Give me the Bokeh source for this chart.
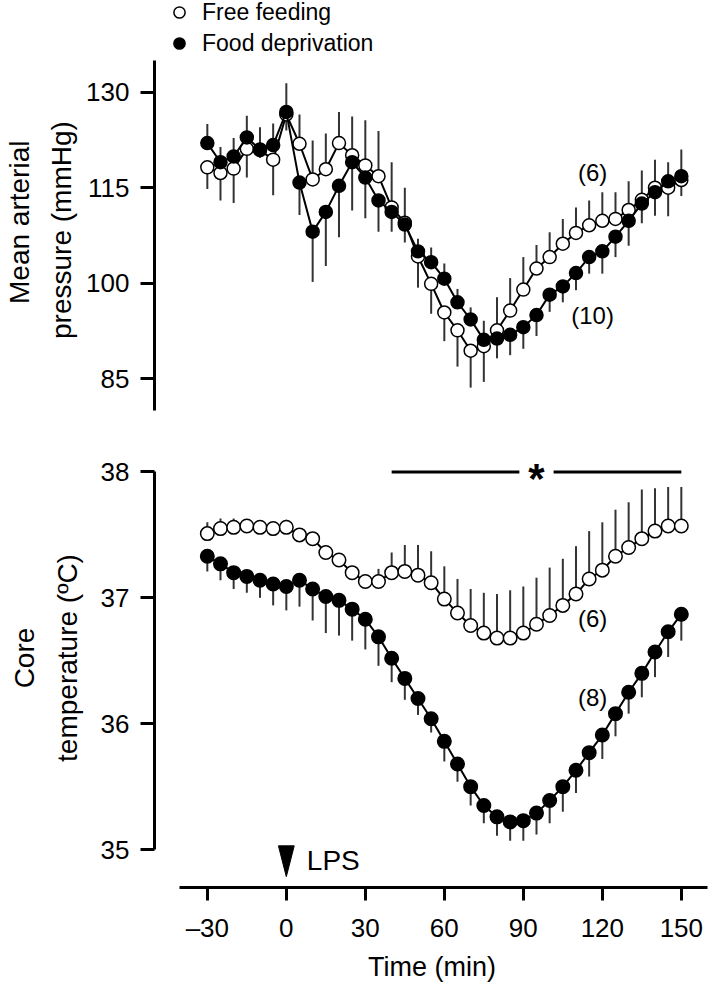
import numpy as np
from bokeh.plotting import figure
from bokeh.models import Range1d, Legend, LegendItem, Label, FixedTicker
from bokeh.layouts import column
from bokeh.embed import file_html
from bokeh.resources import INLINE

# ---------------- data ----------------
time_min = list(range(-30, 155, 5))

map_ff = [118.2, 117.3, 118.0, 121.1, 120.9, 119.4, 126.5, 121.9, 116.3, 117.9,
          122.0, 120.1, 118.5, 116.8, 111.9, 109.5, 104.2, 99.9, 95.4, 92.6,
          89.4, 90.1, 92.6, 95.7, 99.0, 102.3, 104.1, 106.2, 107.9, 109.1,
          109.8, 110.1, 111.5, 113.1, 115.0, 115.0, 116.2]
map_ff_sem = [3.4, 4.3, 5.4, 4.5, 1.2, 5.6, 2.5, 4.6, 6.1, 5.6,
              4.9, 6.1, 7.1, 7.1, 7.1, 5.5, 4.9, 4.7, 4.5, 5.7,
              5.8, 5.6, 5.2, 5.1, 5.1, 3.7, 3.9, 3.9, 4.0, 3.9,
              4.5, 4.2, 4.5, 4.6, 4.4, 4.5, 2.5]
map_fd = [122.0, 119.0, 119.9, 122.9, 121.0, 121.7, 126.9, 115.8, 108.1, 111.2,
          115.3, 119.0, 116.6, 113.0, 111.2, 109.2, 105.0, 103.3, 100.7, 97.0,
          94.3, 91.1, 91.3, 91.9, 93.1, 95.0, 98.2, 99.5, 101.6, 104.1,
          105.0, 107.3, 109.8, 112.5, 114.3, 116.0, 116.8]
map_fd_sem = [3.0, 2.4, 2.9, 3.4, 3.5, 3.4, 4.5, 5.1, 7.9, 8.5,
              8.1, 7.6, 6.4, 4.9, 3.1, 2.8, 2.0, 2.3, 2.4, 2.1,
              1.9, 3.0, 3.1, 3.2, 3.4, 3.3, 2.7, 2.5, 2.7, 2.6,
              3.5, 3.2, 3.9, 3.1, 3.7, 3.0, 4.2]

tc_ff = [37.51, 37.55, 37.56, 37.57, 37.56, 37.55, 37.56, 37.50, 37.47, 37.36,
         37.30, 37.20, 37.13, 37.13, 37.20, 37.21, 37.18, 37.12, 36.99, 36.88,
         36.78, 36.72, 36.68, 36.68, 36.72, 36.79, 36.86, 36.94, 37.03, 37.15,
         37.22, 37.33, 37.40, 37.47, 37.53, 37.57, 37.57]
tc_ff_sem = [0.09, 0.08, 0.07, 0.05, 0.04, 0.04, 0.06, 0.04, 0.04, 0.04,
             0.05, 0.05, 0.04, 0.10, 0.16, 0.21, 0.24, 0.25, 0.26, 0.27,
             0.29, 0.32, 0.35, 0.38, 0.37, 0.37, 0.38, 0.37, 0.38, 0.38,
             0.38, 0.37, 0.36, 0.39, 0.34, 0.31, 0.31]
tc_fd = [37.33, 37.27, 37.20, 37.17, 37.14, 37.11, 37.09, 37.14, 37.07, 37.01,
         36.98, 36.91, 36.83, 36.69, 36.52, 36.36, 36.20, 36.04, 35.86, 35.68,
         35.50, 35.35, 35.26, 35.22, 35.23, 35.29, 35.39, 35.50, 35.63, 35.77,
         35.91, 36.08, 36.25, 36.40, 36.57, 36.73, 36.87]
tc_fd_sem = [0.12, 0.13, 0.13, 0.13, 0.14, 0.17, 0.19, 0.21, 0.25, 0.29,
             0.28, 0.25, 0.24, 0.23, 0.19, 0.17, 0.13, 0.11, 0.16, 0.14,
             0.15, 0.14, 0.15, 0.15, 0.16, 0.17, 0.18, 0.20, 0.18, 0.19,
             0.19, 0.18, 0.17, 0.19, 0.20, 0.20, 0.21]

n_map_ff, n_map_fd = 6, 10
n_tc_ff, n_tc_fd = 6, 8
sig_start, sig_end, sig_mark = 40, 150, 95
lps_time = 0
x_ticks = [-30, 0, 30, 60, 90, 120, 150]
map_ticks = [85, 100, 115, 130]
tc_ticks = [35, 36, 37, 38]

FONT = "Liberation Sans"
ERR_COL = "#333333"
INK = "black"
NB = "\u00a0"

x_range = Range1d(-50.06, 160.7)


def style_yaxis(p, ticks, bounds, label, standoff):
    ax = p.yaxis[0]
    ax.ticker = FixedTicker(ticks=ticks)
    ax.bounds = bounds
    ax.axis_line_width = 3
    ax.axis_line_color = INK
    ax.major_tick_line_width = 3
    ax.major_tick_line_color = INK
    ax.major_tick_out = 14
    ax.major_tick_in = 0
    ax.minor_tick_line_color = None
    ax.major_label_text_font = FONT
    ax.major_label_text_font_size = "26px"
    ax.major_label_text_color = INK
    ax.major_label_standoff = 11
    ax.axis_label = label
    ax.axis_label_text_font = FONT
    ax.axis_label_text_font_size = "28px"
    ax.axis_label_text_font_style = "normal"
    ax.axis_label_text_color = INK
    ax.axis_label_text_line_height = 1.37
    ax.axis_label_standoff = standoff


def add_series(p, t, ff, ff_e, fd, fd_e, size):
    ff = np.array(ff); fd = np.array(fd)
    ff_e = np.array(ff_e); fd_e = np.array(fd_e)
    ff_sign = np.where(ff > fd, 1.0, -1.0)
    fd_sign = np.where(fd >= ff, 1.0, -1.0)
    p.segment(x0=t, y0=ff, x1=t, y1=ff + ff_sign * ff_e, line_color=ERR_COL, line_width=2)
    p.segment(x0=t, y0=fd, x1=t, y1=fd + fd_sign * fd_e, line_color=ERR_COL, line_width=2)
    p.line(t, ff, line_color=INK, line_width=2)
    r_ff = p.scatter(t, ff, marker="circle", size=size, fill_color="white",
                     line_color=INK, line_width=1.5)
    p.line(t, fd, line_color=INK, line_width=2)
    r_fd = p.scatter(t, fd, marker="circle", size=size, fill_color=INK,
                     line_color=INK, line_width=1.5)
    return r_ff, r_fd


def n_label(p, x, y, n):
    p.add_layout(Label(x=x, y=y, text=f"({n})", text_font=FONT, text_font_size="24px",
                       text_color=INK, text_align="center", text_baseline="middle"))


# ---------------- top panel: mean arterial pressure ----------------
p1 = figure(width=709, height=428, x_range=x_range, y_range=Range1d(77.18, 144.40),
            x_axis_location=None, output_backend="svg", toolbar_location=None,
            min_border_left=152, min_border_right=0, min_border_top=0, min_border_bottom=0,
            outline_line_color=None)
p1.grid.visible = False
style_yaxis(p1, map_ticks, (80, 135),
            "Mean arterial" + NB * 2 + "\npressure (mmHg)" + NB * 4, 6)
r_ff, r_fd = add_series(p1, time_min, map_ff, map_ff_sem, map_fd, map_fd_sem, 13)
n_label(p1, 116.3, 117.4, n_map_ff)
n_label(p1, 116.3, 94.9, n_map_fd)

legend = Legend(items=[LegendItem(label="Free feeding", renderers=[r_ff]),
                       LegendItem(label="Food deprivation", renderers=[r_fd])],
                location=(11, 371), glyph_width=28, glyph_height=28, spacing=3,
                padding=0, margin=0, border_line_color=None, background_fill_alpha=0,
                label_standoff=9, label_text_font=FONT, label_text_font_size="23px",
                label_text_color=INK, label_height=28)
p1.add_layout(legend)

# ---------------- bottom panel: core temperature ----------------
p2 = figure(width=709, height=556, x_range=x_range, y_range=Range1d(34.699, 38.345),
            output_backend="svg", toolbar_location=None,
            min_border_left=152, min_border_right=0, min_border_top=0, min_border_bottom=94,
            outline_line_color=None)
p2.grid.visible = False
style_yaxis(p2, tc_ticks, (35, 38), "Core\ntemperature (\u00baC)", 15)
add_series(p2, time_min, tc_ff, tc_ff_sem, tc_fd, tc_fd_sem, 13.5)
n_label(p2, 116.3, 36.835, n_tc_ff)
n_label(p2, 116.3, 36.21, n_tc_fd)

xa = p2.xaxis[0]
xa.ticker = FixedTicker(ticks=x_ticks)
xa.bounds = (-40.6, 160)
xa.axis_line_width = 3
xa.axis_line_color = INK
xa.major_tick_line_width = 3
xa.major_tick_line_color = INK
xa.major_tick_out = 13
xa.major_tick_in = 0
xa.minor_tick_line_color = None
xa.major_label_text_font = FONT
xa.major_label_text_font_size = "26px"
xa.major_label_text_color = INK
xa.major_label_standoff = 12
xa.major_label_overrides = {-30: "\u201330"}
xa.axis_label = "Time (min)"
xa.axis_label_text_font = FONT
xa.axis_label_text_font_size = "27px"
xa.axis_label_text_font_style = "normal"
xa.axis_label_text_color = INK
xa.axis_label_standoff = 6

# significance bar with asterisk
gap = 6.5
p2.segment(x0=[sig_start, sig_mark + gap], y0=[38, 38], x1=[sig_mark - gap, sig_end], y1=[38, 38],
           line_color=INK, line_width=3)
p2.add_layout(Label(x=sig_mark, y=38, text="*", text_font=FONT, text_font_size="42px",
                    text_font_style="bold", text_color=INK, text_align="center",
                    text_baseline="middle", y_offset=-7))

# LPS arrow
p2.patch(x=[lps_time - 3, lps_time + 3, lps_time], y=[35.03, 35.03, 34.785],
         fill_color=INK, line_color=INK, line_width=1)
p2.add_layout(Label(x=lps_time + 7.8, y=34.91, text="LPS", text_font=FONT, text_font_size="28px",
                    text_color=INK, text_align="left", text_baseline="middle"))

layout = column(p1, p2)
open("out.html", "w").write(file_html(layout, INLINE))
